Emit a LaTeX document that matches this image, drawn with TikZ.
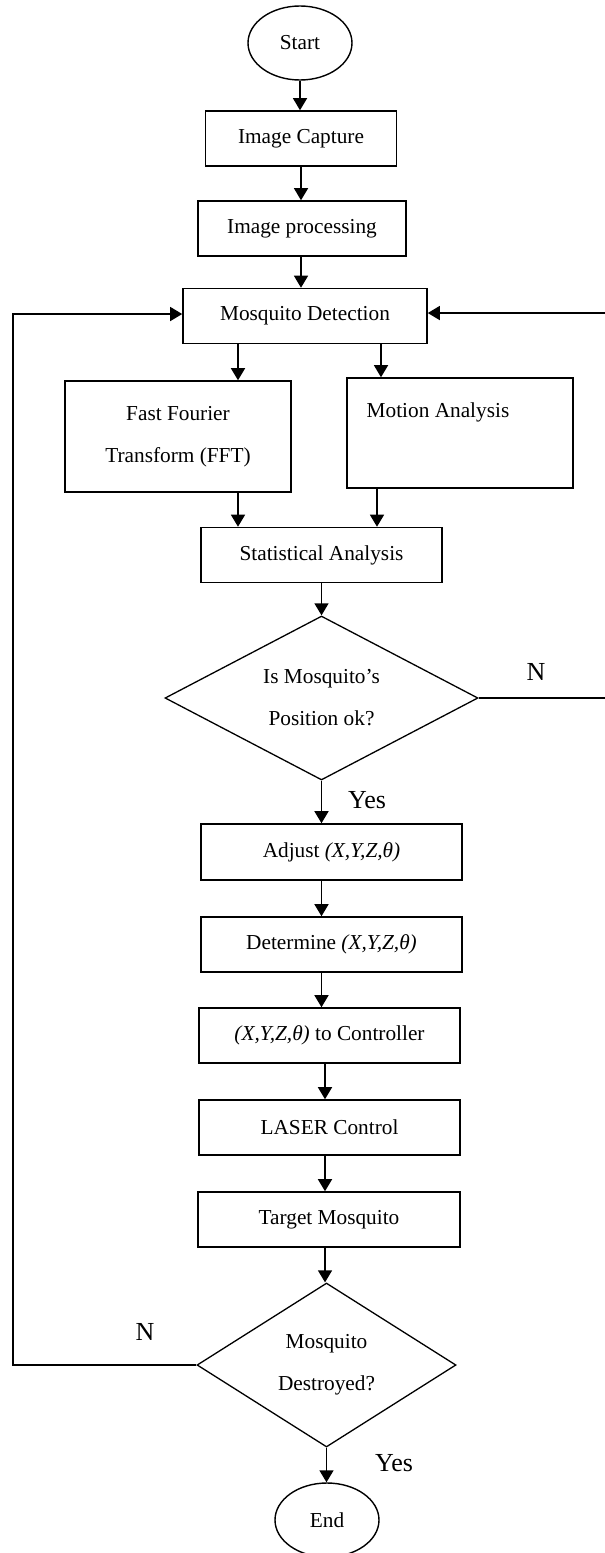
\documentclass[tikz,border=0pt]{standalone}
\usepackage{fontspec}
\setmainfont{Liberation Serif}
\usetikzlibrary{shapes.geometric,arrows.meta,calc}
\begin{document}
\begin{tikzpicture}[x=1pt,y=-1pt,
  every node/.style={font=\fontsize{21.3}{42}\selectfont, inner sep=0pt},
  box/.style={draw, line width=1.6pt, rectangle, minimum height=55pt, align=center},
  term/.style={draw, line width=1.4pt, ellipse, minimum width=104pt, minimum height=74pt},
  dec/.style={draw, line width=1.3pt, diamond, aspect=1.9, align=center},
  lbl/.style={font=\fontsize{26}{30}\selectfont},
  arr/.style={line width=1.4pt, -{Triangle[length=12pt,width=14pt]}},
  ln/.style={line width=1.4pt}]
\useasboundingbox (0,0) rectangle (605,1553);

\node[term] (start) at (300,43) {Start};
\node[box, minimum width=191pt] (cap) at (301,138.5) {Image Capture};
\node[box, minimum width=208pt] (proc) at (302,228.5) {Image processing};
\node[box, minimum width=244pt] (det) at (305,316) {Mosquito Detection};
\node[box, minimum width=226pt, minimum height=111pt] (fft) at (178,436.5) {Fast Fourier\\Transform (FFT)};
\node[box, minimum width=226pt, minimum height=110pt] (mot) at (460,433) {};
\node (motT) at (438,412) {Motion Analysis};
\node[box, minimum width=241pt] (sa) at (321.5,555) {Statistical Analysis};
\node[dec, minimum width=313pt, minimum height=164pt] (d1) at (321.5,698) {Is Mosquito’s\\Position ok?};
\node[box, minimum width=261pt, minimum height=56pt] (adj) at (331.5,852) {Adjust \textit{(X,Y,Z,θ)}};
\node[box, minimum width=261pt] (dtm) at (331.5,944.5) {Determine \textit{(X,Y,Z,θ)}};
\node[box, minimum width=261pt] (ctrl) at (329.5,1035.5) {\textit{(X,Y,Z,θ)} to Controller};
\node[box, minimum width=261pt] (laser) at (329.5,1127.5) {LASER Control};
\node[box, minimum width=262pt] (tgt) at (329,1219.5) {Target Mosquito};
\node[dec, minimum width=259pt, minimum height=164pt] (d2) at (326.5,1365) {Mosquito\\Destroyed?};
\node[term] (end) at (327,1520) {End};

\node[lbl] (n1) at (536,672) {N};
\node[lbl] (y1) at (367,800) {Yes};
\node[lbl] (n2) at (145,1332) {N};
\node[lbl] (y2) at (394,1463) {Yes};

\coordinate (xa) at (238,0);
\coordinate (xb) at (381,0);
\coordinate (xc) at (377,0);
\coordinate (xd) at (321.5,0);
\coordinate (xe) at (325,0);
\coordinate (rc) at (607,313);
\coordinate (lc) at (13,314);

\draw[arr] (start.south) -- (start.south |- cap.north);
\draw[arr] (cap.south) -- (cap.south |- proc.north);
\draw[arr] (cap.south |- proc.south) -- (cap.south |- det.north);
\draw[arr] (det.south -| xa) -- (fft.north -| xa);
\draw[arr] (det.south -| xb) -- (mot.north -| xb);
\draw[arr] (fft.south -| xa) -- (sa.north -| xa);
\draw[arr] (mot.south -| xc) -- (sa.north -| xc);
\draw[arr] (sa.south -| xd) -- (d1.north);
\draw[arr] (d1.south) -- (adj.north -| xd);
\draw[arr] (adj.south -| xd) -- (dtm.north -| xd);
\draw[arr] (dtm.south -| xd) -- (ctrl.north -| xd);
\draw[arr] (ctrl.south -| xe) -- (laser.north -| xe);
\draw[arr] (laser.south -| xe) -- (tgt.north -| xe);
\draw[arr] (tgt.south -| xe) -- (d2.north -| xe);
\draw[arr] (d2.south) -- (d2.south |- end.north);

\draw[arr] (d1.east) -- (d1.east -| rc) -- (rc) -- (rc -| det.east);
\draw[arr] (d2.west) -- (d2.west -| lc) -- (lc) -- (lc -| det.west);
\end{tikzpicture}
\end{document}
